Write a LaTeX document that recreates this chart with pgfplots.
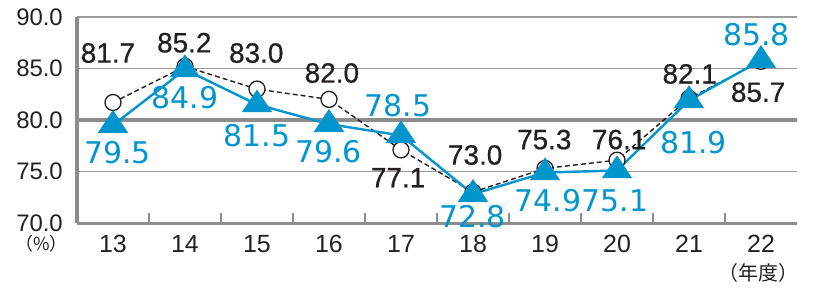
\documentclass[border=0pt]{standalone}
\usepackage{pgfplots}
\pgfplotsset{compat=1.18}
\usepackage{fontspec}
\setmainfont{Liberation Sans}
\newfontfamily\blkfont[FakeBold=0.6]{Liberation Sans}
\newfontfamily\blfont{DejaVu Sans}
\newfontfamily\jpfont{Noto Sans CJK JP}
\definecolor{cblue}{HTML}{0096CD}
\definecolor{cgray}{HTML}{9A9A9A}
\definecolor{cdgray}{HTML}{8C8C8C}
\definecolor{ctext}{HTML}{231F20}
\begin{document}
\begin{tikzpicture}
\begin{axis}[name=ax, scale only axis, width=720bp, height=206bp,
  xmin=12.5, xmax=22.5, ymin=70, ymax=90, clip=false,
  axis lines*=left, axis line style={cdgray, line width=3bp},
  xtick={13,...,22}, xticklabels={13,14,15,16,17,18,19,20,21,22},
  minor xtick={13.5,14.5,...,21.5},
  ytick={70,75,80,85,90}, yticklabels={70.0,75.0,80.0,85.0,90.0},
  extra y ticks={80}, extra y tick labels={},
  extra y tick style={grid style={cdgray, line width=3.2bp}},
  major tick length=0pt, minor tick length=10bp, tick align=inside,
  minor tick style={cdgray, line width=2.5bp},
  ymajorgrids, grid style={cgray, line width=1.5bp},
  x tick label style={font=\fontsize{25}{25}\selectfont, text=ctext, inner sep=0pt, anchor=north, yshift=-12bp},
  y tick label style={font=\fontsize{24}{24}\selectfont, text=ctext, inner sep=0pt, anchor=east, xshift=-14bp},
]
\addplot[ctext, line width=1.4bp, dash pattern=on 5bp off 3bp, mark=*, mark size=8bp,
  mark options={solid, fill=white, draw=ctext, line width=1.3bp}] coordinates {
  (13,81.7) (14,85.2) (15,83.0) (16,82.0) (17,77.1) (18,73.0) (19,75.3) (20,76.1) (21,82.1) (22,85.7)};
\addplot[cblue, line width=2.4bp, mark=triangle*, mark size=13bp,
  mark options={fill=cblue, draw=cblue, xscale=1.15}] coordinates {
  (13,79.5) (14,84.9) (15,81.5) (16,79.6) (17,78.5) (18,72.8) (19,74.9) (20,75.1) (21,81.9) (22,85.8)};
% black labels
\begin{scope}[every node/.style={font=\blkfont\fontsize{28}{28}\selectfont, text=ctext, inner sep=0pt}]
\node at (axis cs:12.93,86.5) {81.7};
\node at (axis cs:13.99,87.5) {85.2};
\node at (axis cs:14.99,86.5) {83.0};
\node at (axis cs:16.04,84.56) {82.0};
\node at (axis cs:16.96,74.4) {77.1};
\node at (axis cs:18.03,76.6) {73.0};
\node at (axis cs:18.99,78.1) {75.3};
\node at (axis cs:20.03,78.1) {76.1};
\node at (axis cs:21.01,84.47) {82.1};
\node at (axis cs:21.96,82.7) {85.7};
\end{scope}
% blue labels
\begin{scope}[every node/.style={font=\blfont\fontsize{30}{30}\selectfont, text=cblue, inner sep=0pt}]
\node at (axis cs:13.06,76.8) {79.5};
\node at (axis cs:14.0,82.2) {84.9};
\node at (axis cs:15.0,78.45) {81.5};
\node at (axis cs:15.99,76.9) {79.6};
\node at (axis cs:16.96,81.36) {78.5};
\node at (axis cs:17.99,70.6) {72.8};
\node at (axis cs:19.04,72.2) {74.9};
\node at (axis cs:19.97,72.2) {75.1};
\node at (axis cs:21.06,77.8) {81.9};
\node at (axis cs:21.94,88.25) {85.8};
\end{scope}
\node[font=\jpfont\fontsize{18}{18}\selectfont, text=ctext, inner sep=0pt] at (axis cs:12.01,68.0) {（\%）};
\node[font=\jpfont\fontsize{20}{20}\selectfont, text=ctext, inner sep=0pt] at (axis cs:21.96,65.2) {（年度）};
\end{axis}
\pgfresetboundingbox
\path[use as bounding box] ([shift={(-77bp,-70bp)}]ax.south west) rectangle ([shift={(21bp,17bp)}]ax.north east);
\end{tikzpicture}
\end{document}
